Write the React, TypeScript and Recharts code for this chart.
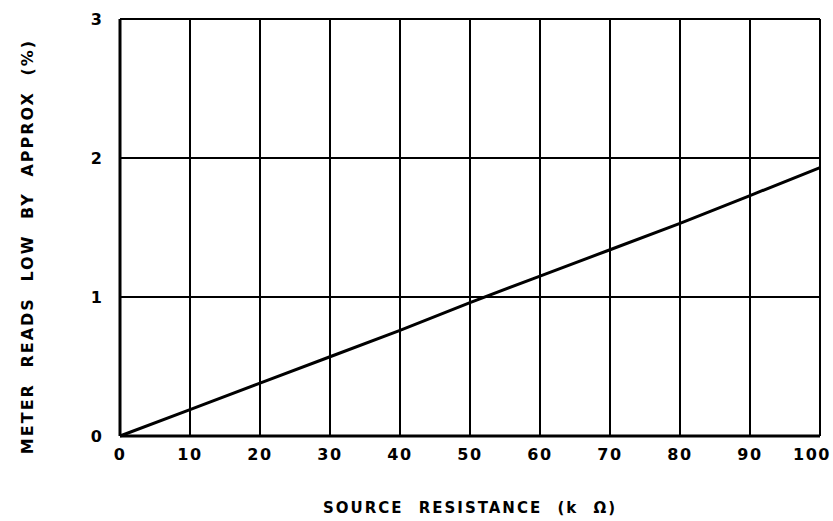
import React from 'react';
import { LineChart, Line, XAxis, YAxis, CartesianGrid, Label } from 'recharts';

const resistanceK = [0, 10, 20, 30, 40, 50, 60, 70, 80, 90, 100];
const lowByPercent = [0, 0.19, 0.38, 0.57, 0.76, 0.96, 1.15, 1.34, 1.53, 1.73, 1.93];
const xTicks = [0, 10, 20, 30, 40, 50, 60, 70, 80, 90, 100];
const yTicks = [0, 1, 2, 3];
const xTitle = 'SOURCE RESISTANCE (k Ω)';
const yTitle = 'METER READS LOW BY APPROX (%)';

const data = resistanceK.map((x, i) => ({ x, y: lowByPercent[i] }));

const FONT = '"DejaVu Sans", sans-serif';

const XTitle = (props: any) => {
  const vb = props.viewBox || {};
  return (
    <text
      x={vb.x + vb.width / 2}
      y={vb.y + vb.height - 8}
      textAnchor="middle"
      fontFamily={FONT}
      fontWeight="bold"
      fontSize={15}
      letterSpacing={2}
      wordSpacing={8}
      fill="#000"
    >
      {xTitle}
    </text>
  );
};

const YTitle = (props: any) => {
  const vb = props.viewBox || {};
  const cx = 33;
  const cy = vb.y + vb.height / 2 + 19;
  return (
    <text
      x={cx}
      y={cy}
      transform={`rotate(-90, ${cx}, ${cy})`}
      textAnchor="middle"
      fontFamily={FONT}
      fontWeight="bold"
      fontSize={16}
      letterSpacing={2}
      wordSpacing={8}
      fill="#000"
    >
      {yTitle}
    </text>
  );
};

const XTick = (props: any) => {
  const { x, y, payload } = props;
  const shift = payload.value === 100 ? -8 : 0;
  return (
    <text
      x={x + shift}
      y={y + 16}
      textAnchor="middle"
      fontFamily={FONT}
      fontWeight="bold"
      fontSize={16}
      letterSpacing={1.5}
      fill="#000"
    >
      {payload.value}
    </text>
  );
};

export default function App() {
  return (
    <div style={{ position: 'absolute', left: 0, top: 0, background: '#fff' }}>
      <LineChart
        width={833}
        height={521}
        data={data}
        margin={{ top: 19, right: 13, left: 0, bottom: 0 }}
      >
        <CartesianGrid stroke="#000" strokeWidth={2} />
        <XAxis
          dataKey="x"
          type="number"
          domain={[0, 100]}
          ticks={xTicks}
          height={85}
          tickLine={false}
          axisLine={{ stroke: '#000', strokeWidth: 3 }}
          tick={<XTick />}
          interval={0}
        >
          <Label content={<XTitle />} />
        </XAxis>
        <YAxis
          type="number"
          domain={[0, 3]}
          ticks={yTicks}
          width={120}
          tickLine={false}
          axisLine={{ stroke: '#000', strokeWidth: 3 }}
          tick={{ fill: '#000', fontSize: 16, fontWeight: 'bold', fontFamily: FONT }}
          tickMargin={12}
        >
          <Label content={<YTitle />} />
        </YAxis>
        <Line
          dataKey="y"
          type="linear"
          stroke="#000"
          strokeWidth={3}
          dot={false}
          isAnimationActive={false}
        />
      </LineChart>
    </div>
  );
}
